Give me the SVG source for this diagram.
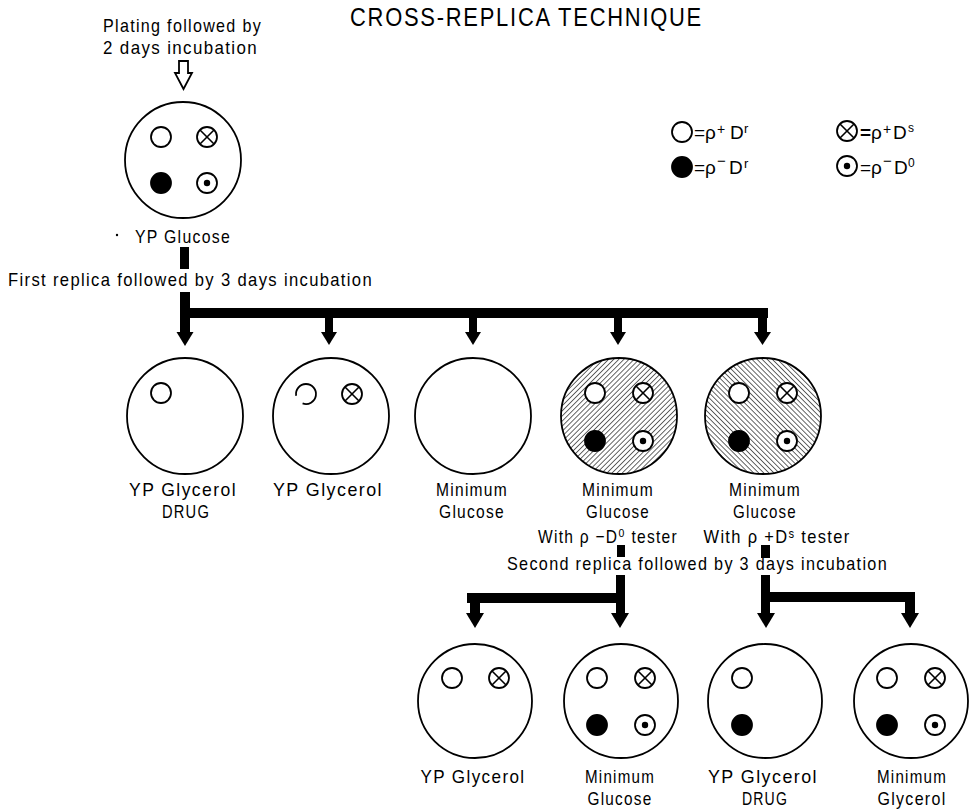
<svg xmlns="http://www.w3.org/2000/svg" width="971" height="810" viewBox="0 0 971 810">
<style>
text{font-family:"Liberation Sans","DejaVu Sans",Arial,sans-serif;font-size:18.5px;letter-spacing:1.5px;fill:#000}
.title{font-size:25px;letter-spacing:2px}
.mid{text-anchor:middle}
.lg{font-size:19px;letter-spacing:0}
.plate{fill:#fff;stroke:#000;stroke-width:1.8}
.col{fill:#fff;stroke:#000;stroke-width:1.8}
.fill{fill:#000;stroke:#000;stroke-width:1.8}
.x{stroke:#000;stroke-width:1.6}
.dot{fill:#000}
.conn{fill:#000;stroke:none}
</style>
<defs>
<pattern id="hatchA" patternUnits="userSpaceOnUse" width="3.6" height="3.6" patternTransform="rotate(45)">
<rect width="3.6" height="3.6" fill="#fff"/>
<line x1="0" y1="0" x2="0" y2="3.6" stroke="#000" stroke-width="1.2"/>
</pattern>
<pattern id="hatchB" patternUnits="userSpaceOnUse" width="3.6" height="3.6" patternTransform="rotate(-45)">
<rect width="3.6" height="3.6" fill="#fff"/>
<line x1="0" y1="0" x2="0" y2="3.6" stroke="#000" stroke-width="1.2"/>
</pattern>
<g id="open"><circle r="10" class="col"/></g>
<g id="filled"><circle r="10" class="fill"/></g>
<g id="crossed"><circle r="10" class="col"/><line x1="-7" y1="-7" x2="7" y2="7" class="x"/><line x1="-7" y1="7" x2="7" y2="-7" class="x"/></g>
<g id="dotted"><circle r="10" class="col"/><circle r="3.2" class="dot"/></g>
</defs>

<text class="title" x="350" y="26" textLength="353" lengthAdjust="spacingAndGlyphs">CROSS-REPLICA TECHNIQUE</text>

<g id="legend">
<use href="#open" x="682" y="132"/>
<text class="lg" y="139"><tspan x="694">=</tspan><tspan x="705">ρ</tspan><tspan x="717" dy="-5" font-size="14">+</tspan><tspan x="730" dy="5">D</tspan><tspan x="744" dy="-6" font-size="13">r</tspan></text>
<use href="#filled" x="682" y="167"/>
<text class="lg" y="174"><tspan x="694">=</tspan><tspan x="705">ρ</tspan><tspan x="717" dy="-8" font-size="15">−</tspan><tspan x="729" dy="8">D</tspan><tspan x="744" dy="-6" font-size="13">r</tspan></text>
<use href="#crossed" x="847" y="131"/>
<text class="lg" y="139"><tspan x="860" font-weight="bold">=</tspan><tspan x="871">ρ</tspan><tspan x="883" dy="-5" font-size="14">+</tspan><tspan x="893" dy="5">D</tspan><tspan x="908" dy="-7" font-size="12">s</tspan></text>
<use href="#dotted" x="847" y="166"/>
<text class="lg" y="174"><tspan x="860">=</tspan><tspan x="871">ρ</tspan><tspan x="883" dy="-8" font-size="15">−</tspan><tspan x="894" dy="8">D</tspan><tspan x="908" dy="-7" font-size="12">0</tspan></text>
</g>

<g id="plating">
<text x="103" y="32" textLength="159" lengthAdjust="spacingAndGlyphs">Plating followed by</text>
<text x="103" y="54" textLength="155" lengthAdjust="spacingAndGlyphs">2 days incubation</text>
<path d="M179,61 H188 V73 H192 L183.5,89 L175,73 H179 Z" fill="#fff" stroke="#000" stroke-width="1.8"/>
</g>

<g id="yp-glucose">
<circle cx="183" cy="160" r="58" class="plate"/>
<use href="#open" x="161" y="137"/>
<use href="#crossed" x="207" y="137"/>
<use href="#filled" x="161" y="183"/>
<use href="#dotted" x="207" y="183"/>
<circle cx="117" cy="235" r="1.2" class="dot"/>
<text x="135" y="243" textLength="96" lengthAdjust="spacingAndGlyphs">YP Glucose</text>
</g>

<g id="connectors">
<rect x="180" y="247" width="9" height="22" class="conn"/>
<text x="8" y="286" textLength="365" lengthAdjust="spacingAndGlyphs">First replica followed by 3 days incubation</text>
<rect x="180" y="292" width="10" height="41" class="conn"/>
<polygon points="176.5,332 193.5,332 185,346" class="conn"/>
<rect x="180" y="308" width="588" height="10" class="conn"/>
<rect x="325" y="316" width="8" height="17" class="conn"/>
<polygon points="321,332 337,332 329,345" class="conn"/>
<rect x="469" y="316" width="8" height="17" class="conn"/>
<polygon points="465,332 481,332 473,345" class="conn"/>
<rect x="614" y="316" width="8" height="17" class="conn"/>
<polygon points="610,332 626,332 618,345" class="conn"/>
<rect x="758" y="316" width="9" height="17" class="conn"/>
<polygon points="754,332 771,332 762.5,345" class="conn"/>

<rect x="617" y="545" width="8" height="12" class="conn"/>
<rect x="761" y="545" width="9" height="13" class="conn"/>
<text x="507" y="570" textLength="381" lengthAdjust="spacingAndGlyphs">Second replica followed by 3 days incubation</text>
<rect x="616" y="575" width="9" height="39" class="conn"/>
<polygon points="611,613 629,613 620,628" class="conn"/>
<rect x="467" y="593" width="158" height="10" class="conn"/>
<rect x="470" y="601" width="10" height="13" class="conn"/>
<polygon points="466,613 484,613 475,628" class="conn"/>
<rect x="761" y="575" width="9" height="39" class="conn"/>
<polygon points="757,613 775,613 766,628" class="conn"/>
<rect x="761" y="592" width="154" height="10" class="conn"/>
<rect x="905" y="600" width="10" height="14" class="conn"/>
<polygon points="901,613 919,613 910,628" class="conn"/>
</g>

<g id="p-yp-glycerol-drug">
<circle cx="185" cy="416" r="58" class="plate"/>
<use href="#open" x="161" y="393"/>
<text class="mid" x="183" y="496" textLength="108" lengthAdjust="spacingAndGlyphs">YP Glycerol</text>
<text class="mid" x="186" y="518" textLength="48" lengthAdjust="spacingAndGlyphs">DRUG</text>
</g>

<g id="p-yp-glycerol">
<circle cx="331" cy="416" r="58" class="plate"/>
<path d="M296.15,395.74 A10,10 0 1 1 302.58,403.4" fill="none" stroke="#000" stroke-width="1.8"/>
<use href="#crossed" x="352" y="394"/>
<text class="mid" x="328" y="496" textLength="110" lengthAdjust="spacingAndGlyphs">YP Glycerol</text>
</g>

<g id="p-minimum-glucose">
<circle cx="473" cy="416" r="58" class="plate"/>
<text class="mid" x="472" y="496" textLength="72" lengthAdjust="spacingAndGlyphs">Minimum</text>
<text class="mid" x="472" y="518" textLength="66" lengthAdjust="spacingAndGlyphs">Glucose</text>
</g>

<g id="p-min-glucose-tester1">
<circle cx="619" cy="416" r="58" fill="url(#hatchA)" stroke="#000" stroke-width="1.8"/>
<use href="#open" x="595" y="393"/>
<use href="#crossed" x="643" y="393"/>
<use href="#filled" x="595" y="441"/>
<use href="#dotted" x="643" y="441"/>
<text class="mid" x="618" y="496" textLength="72" lengthAdjust="spacingAndGlyphs">Minimum</text>
<text class="mid" x="618" y="518" textLength="64" lengthAdjust="spacingAndGlyphs">Glucose</text>
<text class="mid" x="608" y="543" textLength="140" lengthAdjust="spacingAndGlyphs">With ρ −D⁰ tester</text>
</g>

<g id="p-min-glucose-tester2">
<circle cx="763" cy="416" r="58" fill="url(#hatchB)" stroke="#000" stroke-width="1.8"/>
<use href="#open" x="739" y="393"/>
<use href="#crossed" x="787" y="393"/>
<use href="#filled" x="739" y="441"/>
<use href="#dotted" x="787" y="441"/>
<text class="mid" x="765" y="496" textLength="72" lengthAdjust="spacingAndGlyphs">Minimum</text>
<text class="mid" x="765" y="518" textLength="64" lengthAdjust="spacingAndGlyphs">Glucose</text>
<text class="mid" x="777" y="543" textLength="147" lengthAdjust="spacingAndGlyphs">With ρ +Dˢ tester</text>
</g>

<g id="b-yp-glycerol">
<circle cx="475" cy="701" r="57" class="plate"/>
<use href="#open" x="452" y="678"/>
<use href="#crossed" x="499" y="678"/>
<text class="mid" x="473" y="783" textLength="105" lengthAdjust="spacingAndGlyphs">YP Glycerol</text>
</g>

<g id="b-minimum-glucose">
<circle cx="621" cy="701" r="57" class="plate"/>
<use href="#open" x="597" y="678"/>
<use href="#crossed" x="645" y="678"/>
<use href="#filled" x="597" y="725"/>
<use href="#dotted" x="645" y="725"/>
<text class="mid" x="620" y="783" textLength="70" lengthAdjust="spacingAndGlyphs">Minimum</text>
<text class="mid" x="620" y="805" textLength="65" lengthAdjust="spacingAndGlyphs">Glucose</text>
</g>

<g id="b-yp-glycerol-drug">
<circle cx="765" cy="701" r="57" class="plate"/>
<use href="#open" x="742" y="678"/>
<use href="#filled" x="742" y="725"/>
<text class="mid" x="763" y="783" textLength="110" lengthAdjust="spacingAndGlyphs">YP Glycerol</text>
<text class="mid" x="765" y="805" textLength="46" lengthAdjust="spacingAndGlyphs">DRUG</text>
</g>

<g id="b-minimum-glycerol">
<circle cx="911" cy="701" r="57" class="plate"/>
<use href="#open" x="887" y="678"/>
<use href="#crossed" x="935" y="678"/>
<use href="#filled" x="887" y="725"/>
<use href="#dotted" x="935" y="725"/>
<text class="mid" x="912" y="783" textLength="70" lengthAdjust="spacingAndGlyphs">Minimum</text>
<text class="mid" x="912" y="805" textLength="69" lengthAdjust="spacingAndGlyphs">Glycerol</text>
</g>
</svg>
